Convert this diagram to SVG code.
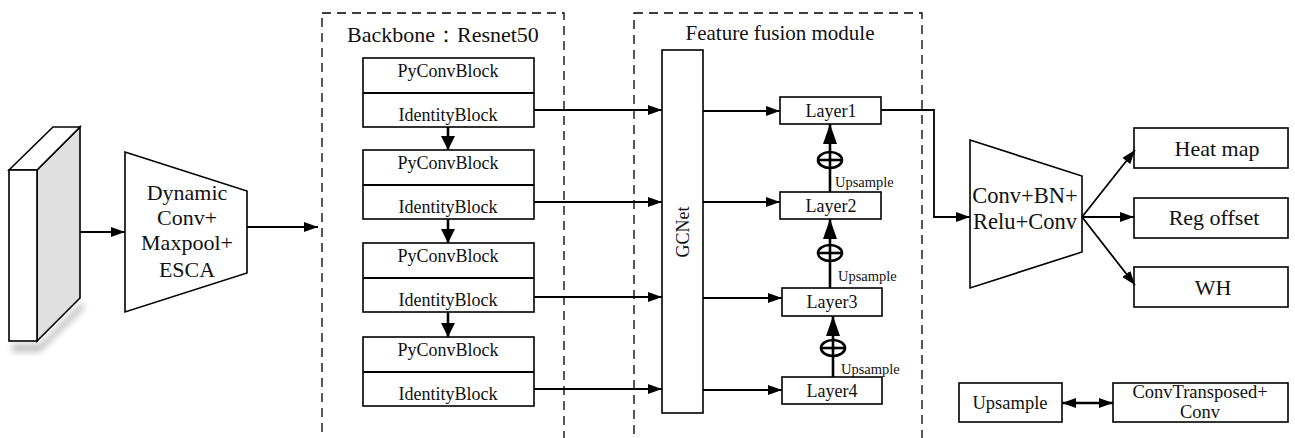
<svg xmlns="http://www.w3.org/2000/svg" width="1295" height="438" viewBox="0 0 1295 438">
<defs>
<marker id="ah" markerUnits="userSpaceOnUse" markerWidth="14" markerHeight="10" refX="14" refY="5" orient="auto"><path d="M0,0 L14,5 L0,10 z" fill="#000"/></marker>
<marker id="ahs" markerUnits="userSpaceOnUse" markerWidth="14" markerHeight="10" refX="0" refY="5" orient="auto"><path d="M14,0 L0,5 L14,10 z" fill="#000"/></marker>
<marker id="ahd" markerUnits="userSpaceOnUse" markerWidth="14" markerHeight="14" refX="14" refY="7" orient="auto"><path d="M0,0 L14,7 L0,14 z" fill="#000"/></marker>
<marker id="ahb" markerUnits="userSpaceOnUse" markerWidth="20" markerHeight="14" refX="20" refY="7" orient="auto"><path d="M0,0 L20,7 L0,14 z" fill="#000"/></marker>
<filter id="sh" x="-50%" y="-50%" width="200%" height="200%"><feGaussianBlur stdDeviation="3"/></filter>
</defs>
<style>
.box{fill:#fff;stroke:#000;stroke-width:1.6}
.dash{fill:none;stroke:#000;stroke-width:1.3;stroke-dasharray:9,6}
.ln{fill:none;stroke:#000;stroke-width:1.8}
.th{fill:none;stroke:#000;stroke-width:2.6}
text{font-family:"Liberation Serif","Times New Roman",serif;fill:#111;text-anchor:middle}
.t22{font-size:22px}
.t18{font-size:18px}
.t14{font-size:14.5px;text-anchor:start}
</style>
<rect width="1295" height="438" fill="#fff"/>

<g id="input">
<path d="M12,344 L40,344 L83,301 L83,310 L40,352 L12,352 z" fill="#999" opacity="0.6" filter="url(#sh)"/>
<polygon points="37,170 80,127 80,298 37,341" fill="#e0e0e0" stroke="#000" stroke-width="1.6"/>
<polygon points="9,170 53,127 80,127 37,170" fill="#fff" stroke="#000" stroke-width="1.6"/>
<rect x="9" y="170" width="28" height="171" class="box"/>
</g>

<g id="stem">
<polygon points="125,152 247,191 247,273 125,312" class="box"/>
<text class="t22" x="187" y="200">Dynamic</text>
<text class="t22" x="187" y="225">Conv+</text>
<text class="t22" x="187" y="250">Maxpool+</text>
<text class="t22" x="187" y="277">ESCA</text>
</g>

<g id="backbone">
<rect x="322" y="13" width="242" height="440" class="dash"/>
<text class="t22" x="347" y="42" style="text-anchor:start">Backbone：Resnet50</text>
</g>

<g id="block1">
<rect x="363" y="58" width="171" height="69" class="box"/><line x1="363" y1="93" x2="534" y2="93" class="ln"/>
<text class="t18" x="448" y="77">PyConvBlock</text><text class="t18" x="448" y="121">IdentityBlock</text>
</g>
<g id="block2">
<rect x="363" y="150" width="171" height="69" class="box"/><line x1="363" y1="185" x2="534" y2="185" class="ln"/>
<text class="t18" x="448" y="169">PyConvBlock</text><text class="t18" x="448" y="213">IdentityBlock</text>
</g>
<g id="block3">
<rect x="363" y="243" width="171" height="69" class="box"/><line x1="363" y1="278" x2="534" y2="278" class="ln"/>
<text class="t18" x="448" y="262">PyConvBlock</text><text class="t18" x="448" y="306">IdentityBlock</text>
</g>
<g id="block4">
<rect x="363" y="337" width="171" height="69" class="box"/><line x1="363" y1="372" x2="534" y2="372" class="ln"/>
<text class="t18" x="448" y="356">PyConvBlock</text><text class="t18" x="448" y="400">IdentityBlock</text>
</g>

<g id="fusion">
<rect x="634" y="13" width="288" height="440" class="dash"/>
<text class="t22" x="780" y="40" style="font-size:21px">Feature fusion module</text>
</g>

<g id="gcnet">
<rect x="662" y="50" width="41" height="363" class="box"/>
<text class="t18" transform="translate(683,232) rotate(-90)" x="0" y="6">GCNet</text>
</g>

<g id="layer1"><rect x="780" y="97" width="101" height="27" class="box"/><text class="t18" x="831" y="117">Layer1</text></g>
<g id="layer2"><rect x="780" y="192" width="101" height="27" class="box"/><text class="t18" x="831" y="212">Layer2</text></g>
<g id="layer3"><rect x="782" y="288" width="100" height="28" class="box"/><text class="t18" x="832" y="308">Layer3</text></g>
<g id="layer4"><rect x="782" y="377" width="100" height="27" class="box"/><text class="t18" x="832" y="397">Layer4</text></g>

<g id="head">
<polygon points="970,140 1082,176 1082,252 970,288" class="box"/>
<text class="t22" x="1025" y="203" style="font-size:22.5px">Conv+BN+</text>
<text class="t22" x="1025" y="229" style="font-size:22.5px">Relu+Conv</text>
</g>
<g id="heatmap"><rect x="1134" y="128" width="154" height="40" class="box"/><text class="t22" x="1217" y="156">Heat map</text></g>
<g id="regoffset"><rect x="1134" y="198" width="154" height="40" class="box"/><text class="t22" x="1214" y="225">Reg offset</text></g>
<g id="wh"><rect x="1134" y="267" width="154" height="40" class="box"/><text class="t22" x="1213" y="295">WH</text></g>

<g id="legend-upsample"><rect x="959" y="383" width="103" height="39" class="box"/><text class="t18" x="1010" y="409" style="font-size:18.5px">Upsample</text></g>
<g id="legend-convt"><rect x="1113" y="383" width="175" height="39" class="box"/><text class="t18" x="1200" y="398" style="font-size:18.5px">ConvTransposed+</text><text class="t18" x="1200" y="418" style="font-size:18.5px">Conv</text></g>

<g id="connectors">
<line x1="80" y1="232" x2="125" y2="232" class="ln" marker-end="url(#ah)"/>
<line x1="247" y1="227" x2="318" y2="227" class="ln" marker-end="url(#ah)"/>
<line x1="448" y1="127" x2="448" y2="150" class="th" marker-end="url(#ahd)"/>
<line x1="448" y1="219" x2="448" y2="243" class="th" marker-end="url(#ahd)"/>
<line x1="448" y1="312" x2="448" y2="337" class="th" marker-end="url(#ahd)"/>
<line x1="534" y1="110" x2="662" y2="110" class="ln" marker-end="url(#ah)"/>
<line x1="534" y1="202" x2="662" y2="202" class="ln" marker-end="url(#ah)"/>
<line x1="534" y1="297" x2="662" y2="297" class="ln" marker-end="url(#ah)"/>
<line x1="534" y1="389" x2="662" y2="389" class="ln" marker-end="url(#ah)"/>
<line x1="703" y1="111" x2="780" y2="111" class="ln" marker-end="url(#ah)"/>
<line x1="703" y1="202" x2="780" y2="202" class="ln" marker-end="url(#ah)"/>
<line x1="703" y1="298" x2="782" y2="298" class="ln" marker-end="url(#ah)"/>
<line x1="703" y1="390" x2="782" y2="390" class="ln" marker-end="url(#ah)"/>
<line x1="830" y1="192" x2="830" y2="124" class="th" marker-end="url(#ahb)"/>
<ellipse cx="830" cy="160" rx="12" ry="8" fill="#fff" stroke="#000" stroke-width="2.6"/>
<line x1="818" y1="160" x2="842" y2="160" class="th"/><line x1="830" y1="152" x2="830" y2="168" class="th"/>
<text class="t14" x="835" y="187">Upsample</text>
<line x1="830" y1="288" x2="830" y2="219" class="th" marker-end="url(#ahb)"/>
<ellipse cx="830" cy="253" rx="12" ry="8" fill="#fff" stroke="#000" stroke-width="2.6"/>
<line x1="818" y1="253" x2="842" y2="253" class="th"/><line x1="830" y1="245" x2="830" y2="261" class="th"/>
<text class="t14" x="838" y="281">Upsample</text>
<line x1="833" y1="377" x2="833" y2="316" class="th" marker-end="url(#ahb)"/>
<ellipse cx="833" cy="348" rx="12" ry="8" fill="#fff" stroke="#000" stroke-width="2.6"/>
<line x1="821" y1="348" x2="845" y2="348" class="th"/><line x1="833" y1="340" x2="833" y2="356" class="th"/>
<text class="t14" x="841" y="374">Upsample</text>
<polyline points="881,110 934,110 934,217 970,217" class="ln" marker-end="url(#ah)"/>
<line x1="1082" y1="217" x2="1135" y2="150" class="ln" marker-end="url(#ah)"/>
<line x1="1082" y1="217" x2="1134" y2="217" class="ln" marker-end="url(#ah)"/>
<line x1="1082" y1="217" x2="1135" y2="285" class="ln" marker-end="url(#ah)"/>
<line x1="1062" y1="403" x2="1113" y2="403" class="th" marker-start="url(#ahs)" marker-end="url(#ah)"/>
</g>
</svg>
